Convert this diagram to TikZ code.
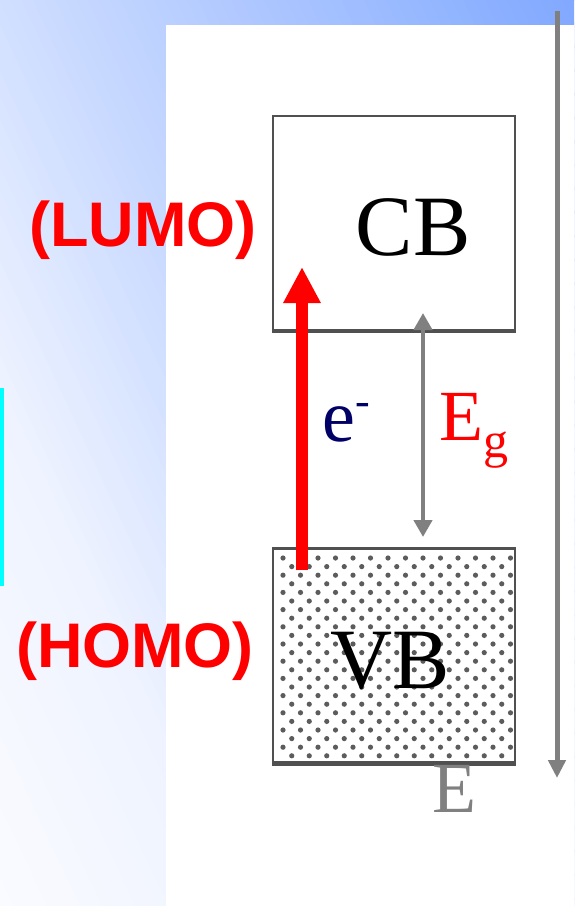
\documentclass[tikz,border=0pt]{standalone}
\usepackage{fontspec}
\setmainfont{Liberation Serif}
\newfontfamily\labelsans{Liberation Sans}
\usetikzlibrary{arrows.meta}
\definecolor{wash-white}{HTML}{FAFBFF}
\definecolor{wash-blue}{HTML}{80A8FF}
\definecolor{edge-cyan}{HTML}{00FFFF}
\definecolor{box-gray}{HTML}{505050}
\definecolor{axis-gray}{HTML}{808080}
\definecolor{dot-gray}{HTML}{5C5C5C}
\definecolor{e-navy}{HTML}{000066}

\begin{document}
\begin{tikzpicture}[x=1pt, y=-1pt,
        every node/.style={inner sep=0pt},
        band/.style={draw=box-gray, line width=2.5pt,
            minimum width=242pt, minimum height=214pt},
        bandtext/.style={font=\fontsize{86}{86}\selectfont, anchor=base},
        orbital/.style={font=\labelsans\bfseries\fontsize{63}{63}\selectfont,
            text=red, anchor=base},
        grayarrow/.style={axis-gray, line width=4.5pt}]
      \useasboundingbox (0,0) rectangle (574,906);
      \begin{scope}
        \clip (0,0) rectangle (574,906);
        \foreach \s in {-390,-380,...,530}{
          \pgfmathsetmacro\mix{max(0,min(100,100*(\s<-169 ? 0.098*(\s+383)/214
                : (\s<0 ? 0.098+0.246*(\s+169)/169 : 0.344+0.656*\s/520))))}
          \fill[wash-blue!\mix!wash-white, rotate around={25:(0,0)}]
                (\s,-20) rectangle ++(11,1110);
        }
      \end{scope}
      \fill[white] (166,25) rectangle (574,906);
      \fill[edge-cyan] (0,388) rectangle (4,586);

      \node[band] (CB) at (394,223) {};
      \node[band] (VB) at (394,655.5) {};
      \draw[box-gray, line width=4pt] (CB.south west) -- (CB.south east);
      \draw[box-gray, line width=4pt] (VB.south west) -- (VB.south east);
      \begin{scope}
        \clip (VB.south west) rectangle (VB.north east);
        \foreach \r in {0,...,23}{
          \foreach \c in {0,...,13}{
            \pgfmathsetmacro\dx{283+17.5*\c+8.75*mod(\r,2)}
            \pgfmathsetmacro\dy{558+8.6*\r}
            \fill[dot-gray] (\dx,\dy) circle[radius=2.6pt];
          }
        }
      \end{scope}
      \node[bandtext] (CBtext) at (413,255) {CB};
      \node[bandtext] (VBtext) at (390,688) {VB};

      \node[orbital] (lumo) at (143,246) {(LUMO)};
      \node[orbital] (homo) at (135,667) {(HOMO)};

      \coordinate (eStart) at (302,570);
      \coordinate (eEnd) at (302,267);
      \draw[red, line width=12pt, -{Triangle[width=35pt,length=36pt]}]
            (eStart) -- (eEnd);
      \node[font=\fontsize{74}{74}\selectfont, text=e-navy, anchor=base west]
            (eLabel) at (322,441) {e\raisebox{26pt}{\fontsize{44}{44}\selectfont -}};

      \coordinate (gapTop) at (423,313);
      \coordinate (gapBot) at (423,537);
      \draw[grayarrow, {Triangle[width=18pt,length=17pt]}-{Triangle[width=18pt,length=17pt]}]
            (gapTop) -- (gapBot);
      \node[font=\fontsize{72}{72}\selectfont, text=red, anchor=base west]
            (gapLabel) at (439,440) {E\raisebox{-17pt}{\fontsize{50}{50}\selectfont g}};

      \coordinate (axisTop) at (557,11);
      \coordinate (axisBot) at (557,778);
      \draw[grayarrow, line width=5pt, -{Triangle[width=17pt,length=18pt]}]
            (axisTop) -- (axisBot);
      \node[font=\fontsize{72}{72}\selectfont, text=axis-gray, anchor=base]
            (axisLabel) at (454,812) {E};
    \end{tikzpicture}
\end{document}
